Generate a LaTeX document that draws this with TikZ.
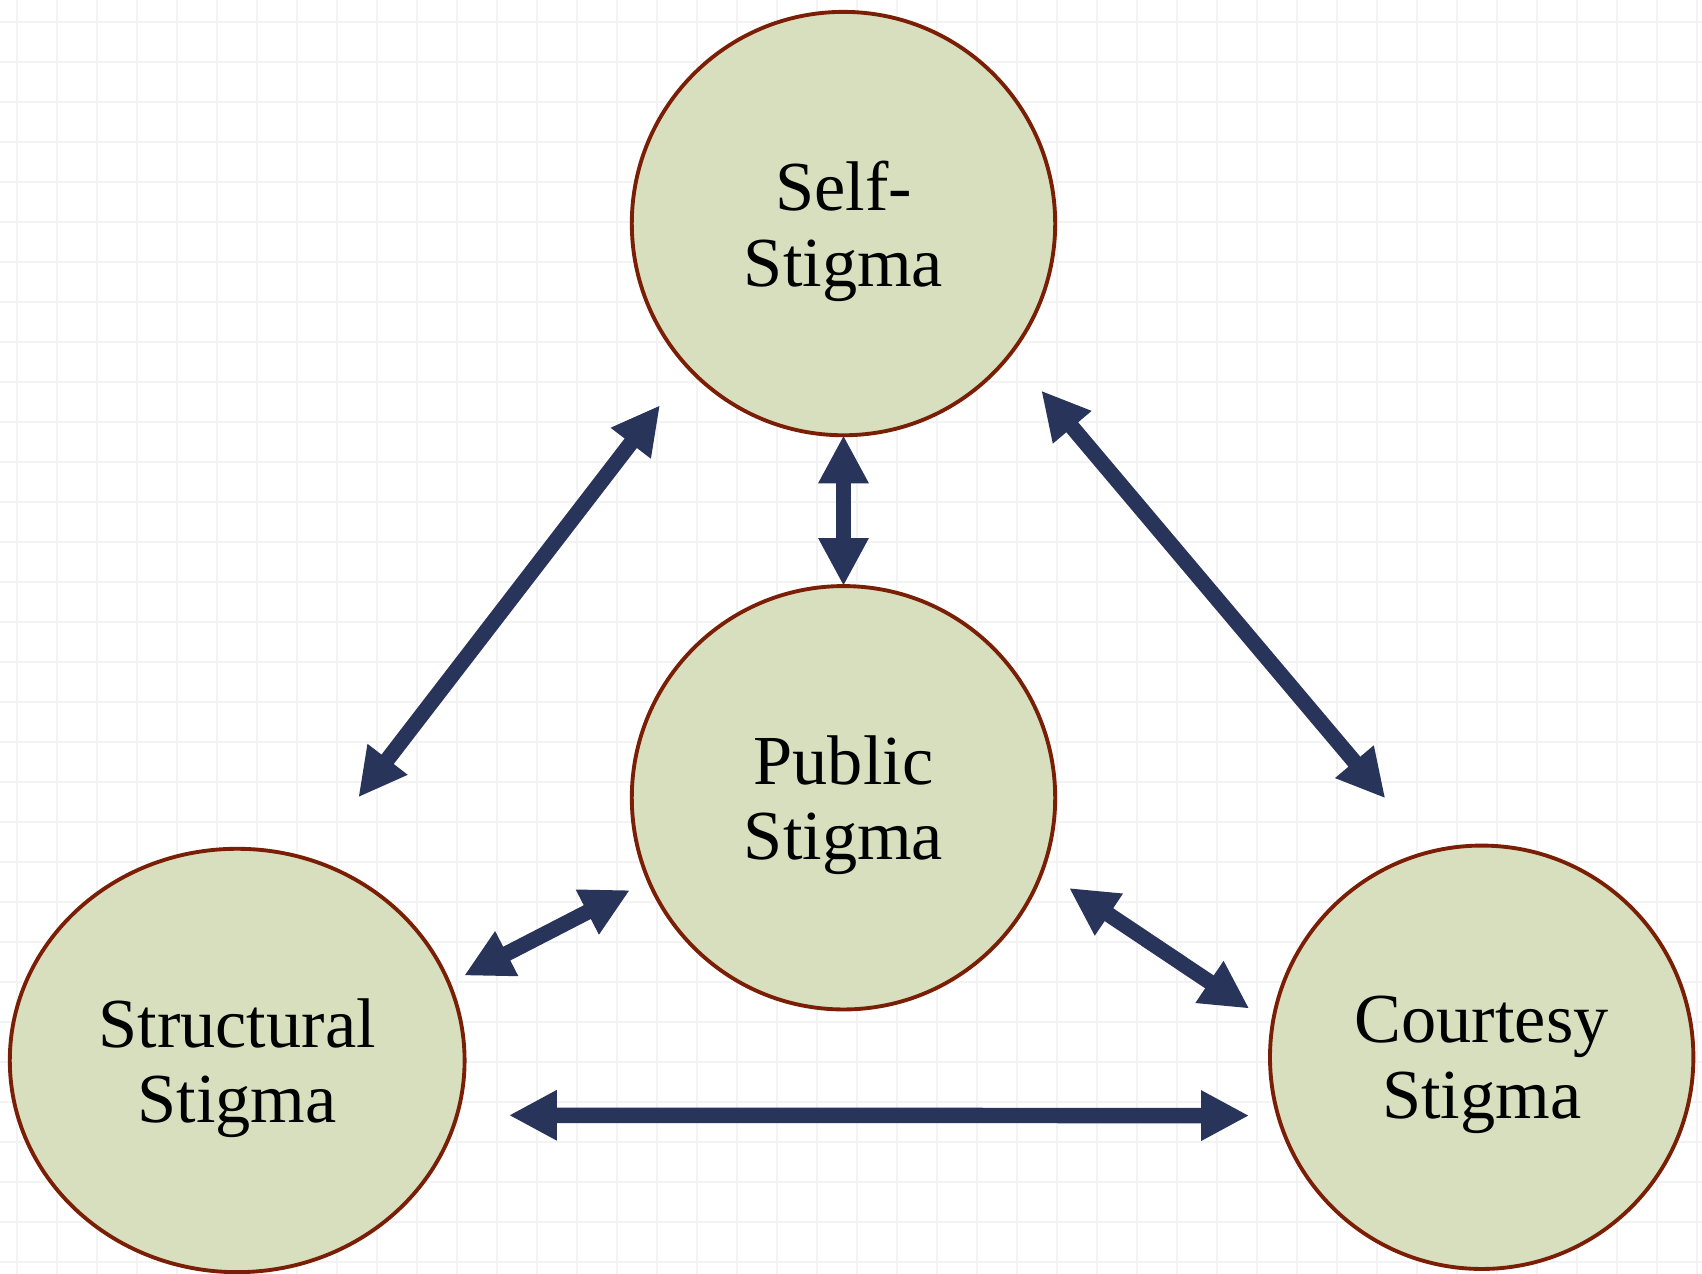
\documentclass[tikz,border=0pt]{standalone}
\usepackage{fontspec}
\setmainfont{Liberation Serif}
\usetikzlibrary{arrows.meta, shapes.geometric}
\usepackage{xcolor}
\definecolor{stigmafill}{HTML}{D8DFBE}
\definecolor{stigmaline}{HTML}{7A1F05}
\definecolor{arrowblue}{HTML}{283459}
\definecolor{gridgray}{HTML}{F3F3F3}
\tikzstyle{gridline}  = [draw=gridgray, line width=0.55pt]
\tikzstyle{stigma}    = [draw=stigmaline, line width=1.1pt, fill=stigmafill, circle, minimum size=4.234cm, inner sep=0pt, outer sep=0pt, align=center, text depth=0pt, font=\fontsize{20}{21.5}\selectfont]
\tikzstyle{dblarrow}  = [line width=4.4pt, draw=arrowblue, {Triangle[length=4.8mm,width=4.7mm]}-{Triangle[length=4.8mm,width=4.7mm]}]

\begin{document}
\begin{tikzpicture}[scale=1]

\useasboundingbox[fill=white] (0,0) rectangle (17.02,12.74);

\foreach \gx in {0,...,42} \draw[gridline] ({0.167+0.4*\gx},0) -- ++(0,12.74);
\foreach \gy in {0,...,31} \draw[gridline] (0,{0.123+0.4*\gy}) -- ++(17.02,0);

\node[stigma] (self)   at (8.435,10.504) {Self-\\Stigma};
\node[stigma] (public) at (8.435,4.762) {Public\\Stigma};

\node[stigma, ellipse, minimum width=4.548cm, minimum height=4.234cm] (structural) at (2.372,2.135) {Structural\\Stigma};
\node[stigma] (courtesy) at (14.817,2.167) {Courtesy\\Stigma};

\draw[dblarrow] (self.south) -- (public.north);
\draw[dblarrow, shorten <=0.47cm, shorten >=0.79cm] (self.223) -- (structural.70);
\draw[dblarrow, shorten <=0.48cm, shorten >=0.70cm] (self.322) -- (courtesy.104);

\draw[dblarrow, shorten <=0.17cm, shorten >=0.21cm] (structural.20) -- (public.203);
\draw[dblarrow, shorten <=0.32cm, shorten >=0.28cm] (public.340) -- (courtesy.171);

\draw[dblarrow, shorten <=0.52cm, shorten >=0.29cm] (structural.346) -- (courtesy.196);

\end{tikzpicture}
\end{document}
